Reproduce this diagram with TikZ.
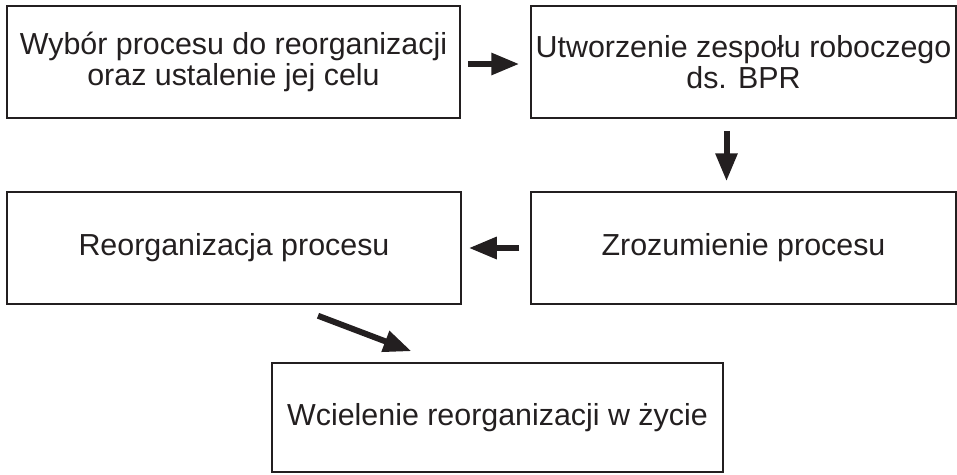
\documentclass[tikz,border=0pt]{standalone}
\usepackage{fontspec}
\setmainfont{Liberation Sans}
\usetikzlibrary{arrows.meta}
\definecolor{ink}{HTML}{231F20}
\begin{document}
\begin{tikzpicture}[
        x=1pt, y=-1pt,
        stage/.style={draw=ink, line width=1.5pt, rectangle, minimum height=112pt, align=center, text=ink,
            font=\fontsize{30.4}{31}\selectfont, inner sep=0pt},
        wide/.style={minimum width=453pt},
        narrow/.style={minimum width=425pt},
        flow/.style={draw=ink, line width=6pt, -{Triangle[length=28pt,width=21pt]}, color=ink},
    ]
    \useasboundingbox (0,0) rectangle (957,474);
    \node[stage, wide](wybor) at (233.5,62) {Wybór procesu do reorganizacji\\oraz ustalenie jej celu};
    \node[stage, narrow](zespol) at (743.5,62) {Utworzenie zespołu roboczego\\ds. BPR};
    \node[stage, minimum width=454pt](reorg) at (234,248) {Reorganizacja procesu};
    \node[stage, narrow](zrozum) at (743.5,248) {Zrozumienie procesu};
    \node[stage, minimum width=451pt, minimum height=109pt](wcielenie) at (497.5,417.5) {Wcielenie reorganizacji w życie};

    \draw[flow] ([xshift=7pt,yshift=-2pt]wybor.east) -- ([xshift=-11pt,yshift=-2pt]zespol.west);
    \draw[flow] ([xshift=-17pt,yshift=-12pt]zespol.south) -- ([xshift=-17pt,yshift=10pt]zrozum.north);
    \draw[flow] ([xshift=-11pt]zrozum.west) -- ([xshift=7pt]reorg.east);
    \draw[flow] ([xshift=84pt,yshift=-11pt]reorg.south) -- ([xshift=-86pt,yshift=11pt]wcielenie.north);
\end{tikzpicture}
\end{document}
